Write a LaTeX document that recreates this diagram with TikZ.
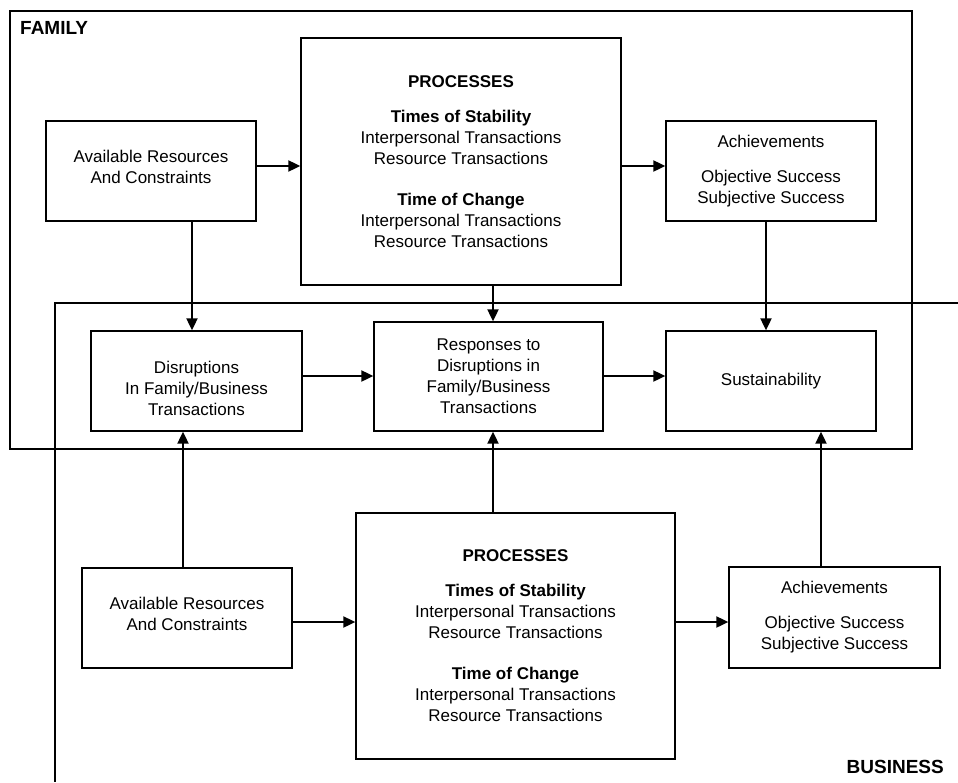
\documentclass[tikz,border=0pt]{standalone}
\usepackage{fontspec}
\setmainfont{Liberation Sans}
\usetikzlibrary{arrows.meta}
\begin{document}
\begin{tikzpicture}[x=1pt,y=-1pt,
  every node/.style={font=\fontsize{17}{21}\selectfont, align=center},
  boxnode/.style={draw, line width=1.3pt, inner sep=0pt},
  arr/.style={line width=1.9pt, -{Triangle[length=12pt,width=11pt]}},
  frame/.style={line width=1.5pt},
  bigtitle/.style={font=\bfseries\fontsize{19}{23}\selectfont, inner sep=0pt}]
\useasboundingbox (0,0) rectangle (958,782);
% frames
\draw[frame] (10,11) rectangle (912,449);
\coordinate (bA) at (958,303);
\coordinate (bB) at (55,303);
\coordinate (bC) at (55,782);
\draw[frame] (bA) -- (bB) -- (bC);
\node[bigtitle, anchor=west] (famlabel) at (20,28) {FAMILY};
\node[bigtitle, anchor=east] (buslabel) at (944,767) {BUSINESS};
% family row
\node[boxnode, minimum width=210pt, minimum height=100pt] (fa) at (151,171)
  {Available Resources\\And Constraints\\[-12pt]\mbox{}};
\node[boxnode, minimum width=320pt, minimum height=247pt] (tp) at (461,161.5)
  {\textbf{PROCESSES}\\[14pt]\textbf{Times of Stability}\\Interpersonal Transactions\\Resource Transactions\\[20pt]\textbf{Time of Change}\\Interpersonal Transactions\\Resource Transactions};
\node[boxnode, minimum width=210pt, minimum height=100pt] (ta) at (771,171)
  {Achievements\\[14pt]Objective Success\\Subjective Success};
% middle row
\node[boxnode, minimum width=211pt, minimum height=100pt] (dis) at (196.5,381)
  {\mbox{}\\[7pt]Disruptions\\In Family/Business\\Transactions};
\node[boxnode, minimum width=229pt, minimum height=109pt] (resp) at (488.5,376.5)
  {Responses to\\Disruptions in\\Family/Business\\Transactions};
\node[boxnode, minimum width=210pt, minimum height=100pt] (sust) at (771,381)
  {Sustainability};
% business row
\node[boxnode, minimum width=210pt, minimum height=100pt] (ba) at (187,618)
  {Available Resources\\And Constraints\\[-12pt]\mbox{}};
\node[boxnode, minimum width=319pt, minimum height=246pt] (bp) at (515.5,636)
  {\textbf{PROCESSES}\\[14pt]\textbf{Times of Stability}\\Interpersonal Transactions\\Resource Transactions\\[20pt]\textbf{Time of Change}\\Interpersonal Transactions\\Resource Transactions};
\node[boxnode, minimum width=211pt, minimum height=101pt] (bach) at (834.5,617.5)
  {Achievements\\[14pt]Objective Success\\Subjective Success};
% family arrows
\draw[arr] ([yshift=5pt]fa.east) -- ([yshift=5pt]fa.east -| tp.west);
\draw[arr] ([yshift=5pt]ta.west -| tp.east) -- ([yshift=5pt]ta.west);
\draw[arr] ([xshift=-4.5pt]dis.north |- fa.south) -- ([xshift=-4.5pt]dis.north);
\draw[arr] ([xshift=4.5pt]resp.north |- tp.south) -- ([xshift=4.5pt]resp.north);
\draw[arr] ([xshift=-5pt]sust.north |- ta.south) -- ([xshift=-5pt]sust.north);
% middle arrows
\draw[arr] ([yshift=5pt]dis.east) -- ([yshift=5pt]dis.east -| resp.west);
\draw[arr] ([yshift=5pt]sust.west -| resp.east) -- ([yshift=5pt]sust.west);
% business arrows
\draw[arr] ([xshift=-13.5pt]dis.south |- ba.north) -- ([xshift=-13.5pt]dis.south);
\draw[arr] ([xshift=4.5pt]resp.south |- bp.north) -- ([xshift=4.5pt]resp.south);
\draw[arr] ([xshift=50pt]sust.south |- bach.north) -- ([xshift=50pt]sust.south);
\draw[arr] ([yshift=-4pt]ba.east) -- ([yshift=-4pt]ba.east -| bp.west);
\draw[arr] ([yshift=-4.5pt]bach.west -| bp.east) -- ([yshift=-4.5pt]bach.west);
\end{tikzpicture}
\end{document}
